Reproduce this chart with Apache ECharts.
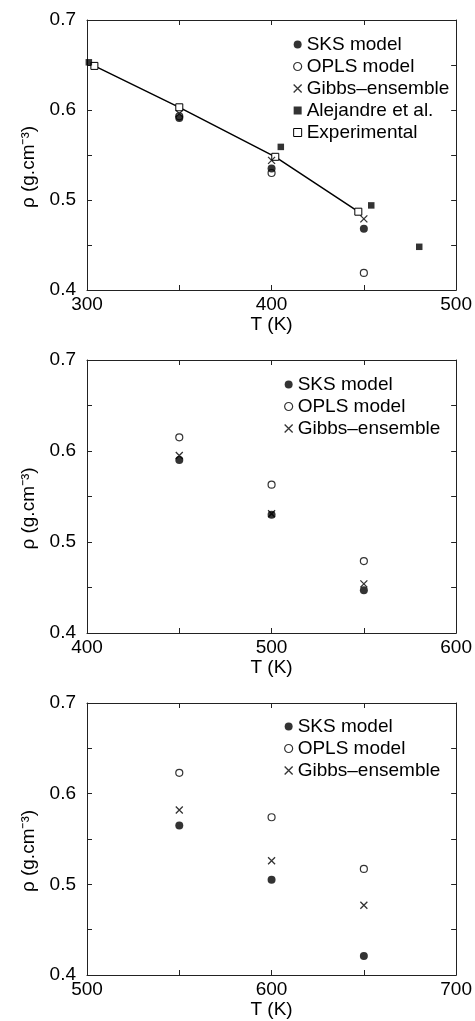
<!DOCTYPE html>
<html>
<head>
<meta charset="utf-8">
<script src="https://cdn.jsdelivr.net/npm/echarts@6/dist/echarts.min.js"></script>
<style>html,body{margin:0;padding:0;background:#fff;}#c{width:475px;height:1021px;}</style>
</head>
<body>
<div id="c"></div>
<script>
// ---- Panel 1 data ----
const p1Temps = [350, 400, 450];
const p1SKS = [0.591, 0.535, 0.468];
const p1OPLS = [0.593, 0.530, 0.419];
const p1Gibbs = [0.596, 0.544, 0.479];
const p1AlejT = [301, 405, 454, 480];
const p1Alej = [0.653, 0.559, 0.494, 0.448];
const p1ExpT = [304, 350, 402, 447];
const p1Exp = [0.649, 0.603, 0.548, 0.487];
// ---- Panel 2 data ----
const p2Temps = [450, 500, 550];
const p2SKS = [0.590, 0.530, 0.447];
const p2OPLS = [0.615, 0.563, 0.479];
const p2Gibbs = [0.595, 0.531, 0.454];
// ---- Panel 3 data ----
const p3Temps = [550, 600, 650];
const p3SKS = [0.565, 0.505, 0.421];
const p3OPLS = [0.623, 0.574, 0.517];
const p3Gibbs = [0.582, 0.526, 0.477];
// ---- Axes ----
const xRanges = [[300, 500], [400, 600], [500, 700]];
const yRange = [0.4, 0.7];
const xTitle = 'T (K)';
const yTitle = 'ρ (g.cm⁻³)';
const names = ['SKS model', 'OPLS model', 'Gibbs–ensemble', 'Alejandre et al.', 'Experimental'];

const FONT = '"Liberation Sans", Arial, Helvetica, sans-serif';
const INK = '#000';
const zip = (a, b) => a.map((v, i) => [v, b[i]]);
const XPATH = 'path://M0,0L10,10M10,0L0,10';

const grids = [
  {left: 87, width: 370, top: 20, height: 270},
  {left: 87, width: 370, top: 360, height: 273},
  {left: 87, width: 370, top: 703, height: 272}
];

const lineStyle = {color: '#222', width: 1};
const xAxes = [], yAxes = [];
grids.forEach((g, i) => {
  const base = {
    type: 'value', gridIndex: i, min: xRanges[i][0], max: xRanges[i][1], interval: 100,
    axisLine: {show: true, onZero: false, lineStyle},
    axisTick: {show: true, inside: true, length: 5, lineStyle},
    minorTick: {show: true, splitNumber: 2, length: 5, lineStyle},
    splitLine: {show: false}
  };
  xAxes.push(Object.assign({}, base, {
    position: 'bottom',
    axisLabel: {fontSize: 19, color: INK, fontFamily: FONT, margin: 5},
    name: xTitle, nameLocation: 'middle', nameGap: 23,
    nameTextStyle: {fontSize: 19, color: INK, fontFamily: FONT}
  }));
  const ybase = {
    type: 'value', gridIndex: i, min: yRange[0], max: yRange[1], interval: 0.1,
    axisLine: {show: true, onZero: false, lineStyle},
    axisTick: {show: true, inside: true, length: 5, lineStyle},
    minorTick: {show: true, splitNumber: 2, length: 5, lineStyle},
    splitLine: {show: false}
  };
  yAxes.push(Object.assign({}, ybase, {
    position: 'left',
    axisLabel: {fontSize: 19, color: INK, fontFamily: FONT, margin: 11, formatter: v => v.toFixed(1)},
    name: yTitle, nameLocation: 'middle', nameGap: 49, nameRotate: 90,
    nameTextStyle: {fontSize: 19, color: INK, fontFamily: FONT, padding: [0, 24, 0, 0]}
  }));
});
grids.forEach((g, i) => {
  xAxes.push({
    type: 'value', gridIndex: i, min: xRanges[i][0], max: xRanges[i][1], interval: 100, position: 'top',
    axisLine: {show: true, onZero: false, lineStyle},
    axisTick: {show: true, inside: true, length: 5, lineStyle},
    minorTick: {show: true, splitNumber: 2, length: 5, lineStyle},
    axisLabel: {show: false}, splitLine: {show: false}
  });
  yAxes.push({
    type: 'value', gridIndex: i, min: yRange[0], max: yRange[1], interval: 0.1, position: 'right',
    axisLine: {show: true, onZero: false, lineStyle},
    axisTick: {show: true, inside: true, length: 5, lineStyle},
    minorTick: {show: true, splitNumber: 2, length: 5, lineStyle},
    axisLabel: {show: false}, splitLine: {show: false}
  });
});

const styles = {
  'SKS model': {symbol: 'circle', symbolSize: 8, itemStyle: {color: '#000', borderColor: '#000', borderWidth: 0}},
  'OPLS model': {symbol: 'circle', symbolSize: 7, itemStyle: {color: '#fff', borderColor: '#000', borderWidth: 1.2}},
  'Gibbs–ensemble': {symbol: XPATH, symbolSize: 7, itemStyle: {color: 'rgba(0,0,0,0)', borderColor: '#000', borderWidth: 1.3}},
  'Alejandre et al.': {symbol: 'rect', symbolSize: 6.5, itemStyle: {color: '#000', borderColor: '#000', borderWidth: 0}},
  'Experimental': {symbol: 'rect', symbolSize: 7, itemStyle: {color: '#fff', borderColor: '#000', borderWidth: 1}}
};

function scatter(name, idx, xs, ys, z) {
  const s = styles[name];
  return {type: 'scatter', name, xAxisIndex: idx, yAxisIndex: idx, data: zip(xs, ys),
    symbol: s.symbol, symbolSize: s.symbolSize, itemStyle: s.itemStyle, z: z};
}

const series = [
  {type: 'line', name: 'Experimental', xAxisIndex: 0, yAxisIndex: 0, data: zip(p1ExpT, p1Exp),
    symbol: 'rect', symbolSize: 7, showAllSymbol: true,
    itemStyle: styles['Experimental'].itemStyle,
    lineStyle: {color: '#000', width: 1.5}, z: 2},
  scatter('OPLS model', 0, p1Temps, p1OPLS, 3),
  scatter('SKS model', 0, p1Temps, p1SKS, 4),
  scatter('Alejandre et al.', 0, p1AlejT, p1Alej, 4),
  scatter('Gibbs–ensemble', 0, p1Temps, p1Gibbs, 5),
  scatter('OPLS model', 1, p2Temps, p2OPLS, 3),
  scatter('SKS model', 1, p2Temps, p2SKS, 4),
  scatter('Gibbs–ensemble', 1, p2Temps, p2Gibbs, 5),
  scatter('OPLS model', 2, p3Temps, p3OPLS, 3),
  scatter('SKS model', 2, p3Temps, p3SKS, 4),
  scatter('Gibbs–ensemble', 2, p3Temps, p3Gibbs, 5)
];

function legendData(list) {
  return list.map(n => ({name: n, icon: styles[n].symbol, itemStyle: styles[n].itemStyle}));
}
const legendBase = {orient: 'vertical', itemWidth: 8, itemHeight: 8, itemGap: 3, itemTextGap: 7,
  selectedMode: false, textStyle: {fontSize: 19, color: INK, fontFamily: FONT}};
const legends = [
  Object.assign({}, legendBase, {left: 288, top: 30, data: legendData(names)}),
  Object.assign({}, legendBase, {left: 279, top: 370, data: legendData(names.slice(0, 3))}),
  Object.assign({}, legendBase, {left: 279, top: 712, data: legendData(names.slice(0, 3))})
];

const chart = echarts.init(document.getElementById('c'), null, {renderer: 'canvas'});
chart.setOption({
  backgroundColor: '#fff',
  animation: false,
  grid: grids,
  xAxis: xAxes,
  yAxis: yAxes,
  legend: legends,
  series
});
</script>
</body>
</html>
